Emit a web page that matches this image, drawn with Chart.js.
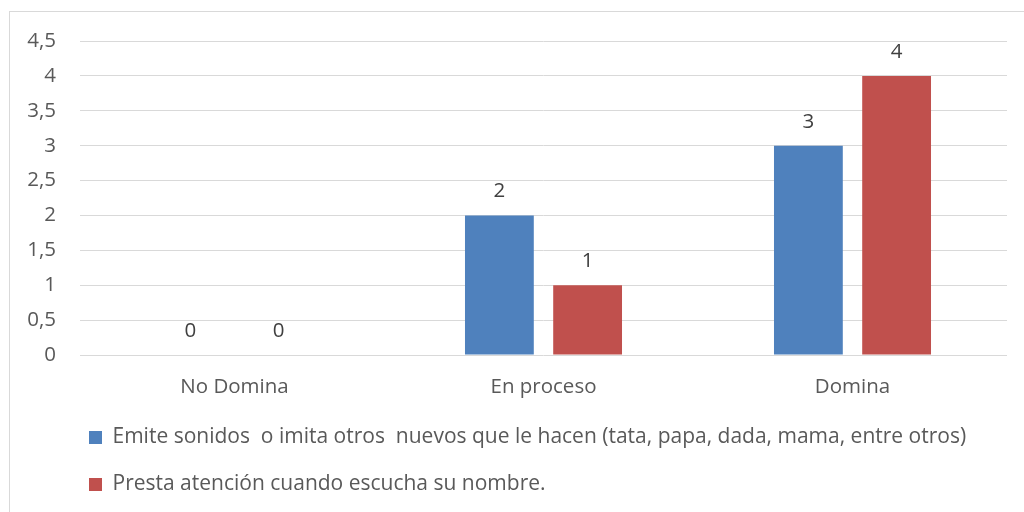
<!DOCTYPE html>
<html>
<head>
<meta charset="utf-8">
<script src="https://cdn.jsdelivr.net/npm/chart.js@4/dist/chart.umd.min.js"></script>
<style>
  html, body { margin: 0; padding: 0; background: #fff; overflow: hidden; }
  #wrap { position: relative; width: 1024px; height: 512px; }
  #frame { position: absolute; left: 9px; top: 11px; width: 1100px; height: 600px;
           border-top: 1px solid #d9d9d9; border-left: 1px solid #d9d9d9; pointer-events: none; }
  canvas { position: absolute; left: 0; top: 0; }
</style>
</head>
<body>
<div id="wrap">
  <canvas id="c" width="1024" height="512"></canvas>
  <div id="frame"></div>
</div>
<script>
const categories = ['No Domina', 'En proceso', 'Domina'];
const seriesNames = [
  'Emite sonidos  o imita otros  nuevos que le hacen (tata, papa, dada, mama, entre otros)',
  'Presta atención cuando escucha su nombre.'
];
const emiteValues = [0, 2, 3];
const prestaValues = [0, 1, 4];
const yMin = 0, yMax = 4.5, yStep = 0.5;

const FONT = '"Open Sans"';
const FS = 20.5;
const LEGEND_FS = 21;

const valueLabels = {
  id: 'valueLabels',
  afterDatasetsDraw(chart) {
    const ctx = chart.ctx;
    ctx.save();
    ctx.font = FS + 'px ' + FONT;
    ctx.fillStyle = '#404040';
    ctx.textAlign = 'center';
    ctx.textBaseline = 'alphabetic';
    chart.data.datasets.forEach((ds, i) => {
      const meta = chart.getDatasetMeta(i);
      meta.data.forEach((bar, j) => {
        ctx.fillText(String(ds.data[j]).replace('.', ','), bar.x, bar.y - 18);
      });
    });
    ctx.restore();
  }
};

const legendShift = {
  id: 'legendShift',
  afterLayout(chart) {
    chart.legend.left = 63;
  }
};

new Chart(document.getElementById('c'), {
  type: 'bar',
  data: {
    labels: categories,
    datasets: [
      { label: seriesNames[0], data: emiteValues, backgroundColor: '#4F81BD',
        categoryPercentage: 0.571, barPercentage: 0.78 },
      { label: seriesNames[1], data: prestaValues, backgroundColor: '#C0504D',
        categoryPercentage: 0.571, barPercentage: 0.78 }
    ]
  },
  options: {
    responsive: false,
    animation: false,
    devicePixelRatio: 1,
    layout: { padding: { left: 0, right: 17, top: 41, bottom: 7 } },
    plugins: {
      tooltip: { enabled: false },
      legend: {
        position: 'bottom',
        align: 'start',
        labels: {
          boxWidth: 13, boxHeight: 13, padding: 26,
          color: '#595959',
          font: { family: FONT, size: LEGEND_FS }
        }
      }
    },
    scales: {
      x: {
        grid: { display: false, drawTicks: false },
        border: { display: false },
        ticks: { color: '#595959', padding: 20, font: { family: FONT, size: FS } },
        afterFit(s) { s.height = 46; }
      },
      y: {
        min: yMin, max: yMax,
        grid: { color: '#d9d9d9', lineWidth: 1, drawTicks: false },
        border: { display: false },
        ticks: {
          stepSize: yStep, color: '#595959', padding: 24,
          font: { family: FONT, size: FS },
          callback: (v) => String(v).replace('.', ',')
        },
        afterFit(s) { s.width = 80; }
      }
    }
  },
  plugins: [valueLabels, legendShift]
});
</script>
</body>
</html>
